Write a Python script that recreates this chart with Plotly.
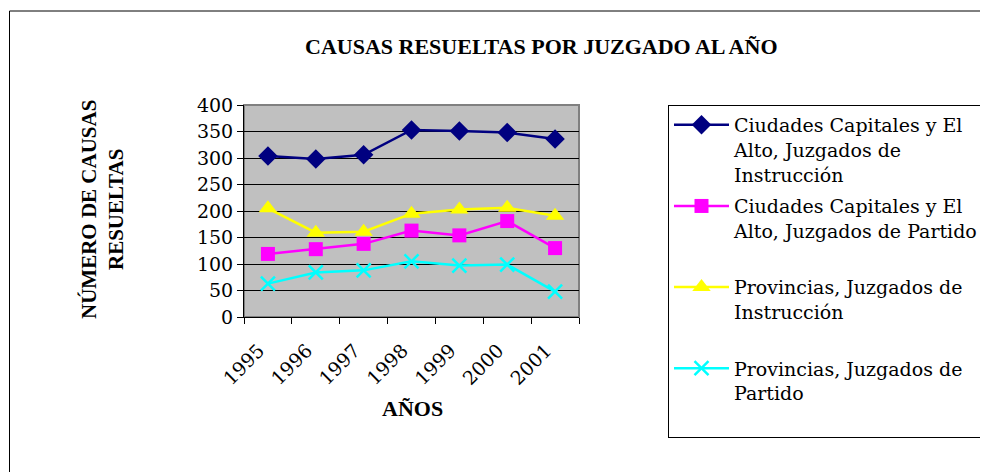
import plotly.graph_objects as go

years = ["1995", "1996", "1997", "1998", "1999", "2000", "2001"]
cap_instruccion = [304, 298, 306, 353, 351, 348, 336]
cap_partido = [119, 128, 138, 163, 154, 181, 130]
prov_instruccion = [205, 159, 161, 195, 203, 206, 191]
prov_partido = [63, 84, 88, 105, 97, 99, 48]

names = [
    "Ciudades Capitales y El<br>Alto, Juzgados de<br>Instrucción",
    "Ciudades Capitales y El<br>Alto, Juzgados de Partido<br>\u00a0",
    "Provincias, Juzgados de<br>Instrucción<br>\u00a0",
    "Provincias, Juzgados de<br>Partido<br>\u00a0",
]
series = [cap_instruccion, cap_partido, prov_instruccion, prov_partido]
colors = ["#000080", "#FF00FF", "#FFFF00", "#00FFFF"]
symbols = ["diamond", "square", "triangle-up", "x-thin"]
sizes = [15, 14, 16, 14]

SERIF = "Liberation Serif, Times New Roman, serif"
WIDE = "DejaVu Serif, serif"

fig = go.Figure()
for i, (n, s, c, sym, sz) in enumerate(zip(names, series, colors, symbols, sizes)):
    marker = dict(symbol=sym, size=sz, color=c)
    if sym == "x-thin":
        marker["line"] = dict(color=c, width=2.5)
    fig.add_trace(go.Scatter(
        x=years, y=s, name=n, mode="lines+markers", legendgroup=f"g{i}",
        line=dict(color=c, width=2.5), marker=marker,
    ))

OFF = 8  # page body margin
W, H = 988 - OFF, 472 - OFF
L, R, T, B = 244 - OFF, 579 - OFF, 105 - OFF, 317 - OFF
pw, ph = R - L, B - T

def px(x):
    return (x - OFF - L) / pw

def py(y):
    return (B - (y - OFF)) / ph

fig.update_layout(
    width=W, height=H,
    margin=dict(l=L, r=W - R, t=T, b=H - B, autoexpand=False),
    paper_bgcolor="white",
    plot_bgcolor="#C0C0C0",
    font=dict(family=SERIF, size=20, color="black"),
    showlegend=True,
    legend=dict(
        xref="container", yref="container",
        x=(668 - OFF) / W, y=1 - (105 - OFF) / H, xanchor="left", yanchor="top",
        bordercolor="black", borderwidth=1, bgcolor="white",
        font=dict(family=WIDE, size=19, color="black"),
        valign="top", tracegroupgap=4, itemwidth=55, maxheight=460,
    ),
    xaxis=dict(
        type="category", range=[-0.5, 6.5], tickson="boundaries",
        ticks="outside", ticklen=6, tickcolor="black",
        showline=True, linecolor="black", linewidth=1,
        showgrid=False, tickangle=-45,
        ticklabelstandoff=14, ticklabelshift=-9,
        tickfont=dict(family=WIDE, size=19, color="black"),
    ),
    yaxis=dict(
        range=[0, 400], dtick=50, ticks="outside", ticklen=6, tickcolor="black",
        showline=True, linecolor="black", linewidth=1,
        showgrid=True, gridcolor="black", gridwidth=1,
        tickfont=dict(family=WIDE, size=19, color="black"),
        zeroline=False,
    ),
    shapes=[
        dict(type="rect", xref="paper", yref="paper", x0=0, x1=1, y0=0, y1=1,
             line=dict(color="#808080", width=2), layer="below"),
        dict(type="rect", xref="paper", yref="paper",
             x0=px(9.5), x1=px(1000), y0=py(11), y1=py(490),
             line=dict(color="black", width=1), layer="below"),
    ],
    annotations=[
        dict(text="<b>CAUSAS RESUELTAS POR JUZGADO AL AÑO</b>", xref="paper", yref="paper",
             x=px(541), y=py(47), showarrow=False, xanchor="center", yanchor="middle",
             font=dict(family=SERIF, size=22, color="black")),
        dict(text="<b>AÑOS</b>", xref="paper", yref="paper",
             x=px(412), y=py(408), showarrow=False, xanchor="center", yanchor="middle",
             font=dict(family=SERIF, size=22, color="black")),
        dict(text="<b>NÚMERO DE CAUSAS<br>RESUELTAS</b>", xref="paper", yref="paper",
             x=px(102), y=py(210), showarrow=False, xanchor="center", yanchor="middle",
             textangle=-90, font=dict(family=SERIF, size=21, color="black")),
    ],
)

fig.write_html("out.html")
